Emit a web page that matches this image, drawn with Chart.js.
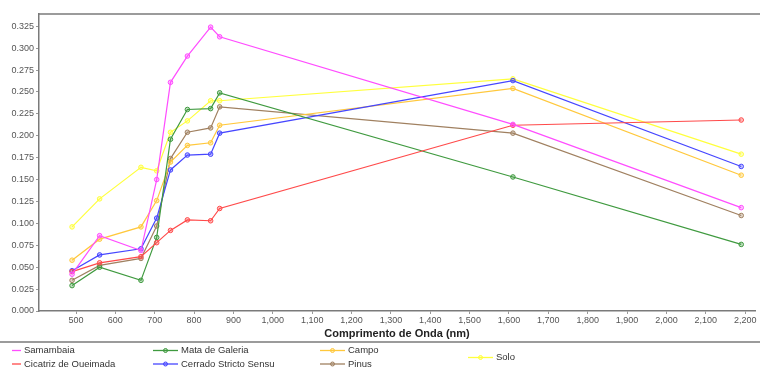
<!DOCTYPE html>
<html>
<head>
<meta charset="utf-8">
<script src="https://cdn.jsdelivr.net/npm/chart.js@4"></script>
<style>
  html, body { margin: 0; padding: 0; background: #fff; }
  #wrap { width: 760px; height: 367px; position: relative; }
</style>
</head>
<body>
<div id="wrap"><canvas id="spectra"></canvas></div>
<script>
// Sentinel-2 band centres (nm)
var wavelengths = [490, 560, 665, 705, 740, 783, 842, 865, 1610, 2190];

var samambaia = [0.042, 0.086, 0.069, 0.150, 0.261, 0.291, 0.324, 0.313, 0.213, 0.118];
var cicatriz  = [0.045, 0.055, 0.062, 0.078, 0.092, 0.104, 0.103, 0.117, 0.212, 0.218];
var mata      = [0.029, 0.050, 0.035, 0.084, 0.196, 0.230, 0.231, 0.249, 0.153, 0.076];
var cerrado   = [0.046, 0.064, 0.071, 0.106, 0.161, 0.178, 0.179, 0.203, 0.263, 0.165];
var campo     = [0.058, 0.082, 0.096, 0.126, 0.170, 0.189, 0.192, 0.212, 0.254, 0.155];
var pinus     = [0.035, 0.052, 0.060, 0.097, 0.174, 0.204, 0.209, 0.233, 0.203, 0.109];
var solo      = [0.096, 0.128, 0.164, 0.160, 0.204, 0.217, 0.240, 0.240, 0.265, 0.179];

var seriesNames = ["Samambaia", "Cicatriz de Queimada", "Mata de Galeria", "Cerrado Stricto Sensu", "Campo", "Pinus", "Solo"];
var seriesData = [samambaia, cicatriz, mata, cerrado, campo, pinus, solo];
var seriesColors = ["#ff4dff", "#ff4a4a", "#3f9a3f", "#4646ff", "#ffc83c", "#a08060", "#ffff3c"];

var xTitle = "Comprimento de Onda (nm)";

function toPoints(values) {
  var pts = [];
  for (var i = 0; i < values.length; i++) {
    pts.push({ x: wavelengths[i], y: values[i] });
  }
  return pts;
}

var datasets = [];
for (var i = 0; i < seriesNames.length; i++) {
  datasets.push({
    label: seriesNames[i],
    data: toPoints(seriesData[i]),
    borderColor: seriesColors[i],
    backgroundColor: seriesColors[i] + "55",
    borderWidth: 1.2,
    pointRadius: 2.3,
    pointBorderWidth: 1,
    pointBackgroundColor: seriesColors[i] + "55",
    pointBorderColor: seriesColors[i],
    tension: 0,
    fill: false
  });
}

// legend slots: [x of line start, line length, baseline y, marker?]
var legendSlots = [
  [12, 9, 350.5, false],
  [12, 9, 364, false],
  [153, 25, 350.5, true],
  [153, 25, 364, true],
  [320, 25, 350.5, true],
  [320, 25, 364, true],
  [468, 25, 357.5, true]
];

var framePlugin = {
  id: "frame",
  afterDraw: function (chart) {
    var ctx = chart.ctx;
    var a = chart.chartArea;
    ctx.save();
    // top border of the plot
    ctx.strokeStyle = "#7a7a7a";
    ctx.lineWidth = 1.5;
    ctx.beginPath();
    ctx.moveTo(a.left, a.top);
    ctx.lineTo(760, a.top);
    ctx.stroke();
    // separator above the legend
    ctx.beginPath();
    ctx.moveTo(0, 342);
    ctx.lineTo(760, 342);
    ctx.stroke();

    // legend
    ctx.font = "9.5px 'Liberation Sans', Arial, sans-serif";
    ctx.textBaseline = "middle";
    ctx.textAlign = "left";
    for (var i = 0; i < legendSlots.length; i++) {
      var s = legendSlots[i];
      var c = seriesColors[i];
      ctx.strokeStyle = c;
      ctx.lineWidth = 1.3;
      ctx.beginPath();
      ctx.moveTo(s[0], s[2]);
      ctx.lineTo(s[0] + s[1], s[2]);
      ctx.stroke();
      if (s[3]) {
        ctx.fillStyle = c + "55";
        ctx.lineWidth = 1;
        ctx.beginPath();
        ctx.arc(s[0] + s[1] / 2, s[2], 2, 0, Math.PI * 2);
        ctx.fill();
        ctx.stroke();
      }
      ctx.fillStyle = "#333";
      ctx.fillText(seriesNames[i], s[0] + s[1] + 3, s[2]);
    }
    ctx.restore();
  }
};

var ctx = document.getElementById("spectra").getContext("2d");
var spectraChart = new Chart(ctx, {
  type: "line",
  data: { datasets: datasets },
  plugins: [framePlugin],
  options: {
    responsive: true,
    maintainAspectRatio: false,
    animation: false,
    layout: { padding: { top: 14, right: 0, bottom: 26, left: 0 } },
    plugins: {
      legend: { display: false },
      tooltip: { enabled: false }
    },
    scales: {
      x: {
        type: "linear",
        min: 406,
        max: 2225,
        afterFit: function (scale) { scale.height = 30; },
        grid: { display: true, drawOnChartArea: false, tickLength: 3, color: "#999" },
        border: { display: true, color: "#7a7a7a", width: 1.5 },
        ticks: {
          stepSize: 100,
          includeBounds: false,
          maxRotation: 0,
          autoSkip: false,
          padding: 1,
          color: "#555",
          font: { family: "'Liberation Sans', Arial, sans-serif", size: 9 },
          callback: function (v) { return v.toLocaleString("en-US"); }
        },
        title: {
          display: true,
          text: xTitle,
          color: "#222",
          padding: { top: 0, bottom: 0 },
          font: { family: "'Liberation Sans', Arial, sans-serif", size: 11, weight: "bold" }
        }
      },
      y: {
        min: 0,
        max: 0.339,
        afterFit: function (scale) { scale.width = 39; },
        grid: { display: true, drawOnChartArea: false, tickLength: 3, color: "#999" },
        border: { display: true, color: "#7a7a7a", width: 1.5 },
        ticks: {
          stepSize: 0.025,
          includeBounds: false,
          padding: 2,
          color: "#555",
          font: { family: "'Liberation Sans', Arial, sans-serif", size: 9 },
          callback: function (v) { return v.toFixed(3); }
        }
      }
    }
  }
});
</script>
</body>
</html>
